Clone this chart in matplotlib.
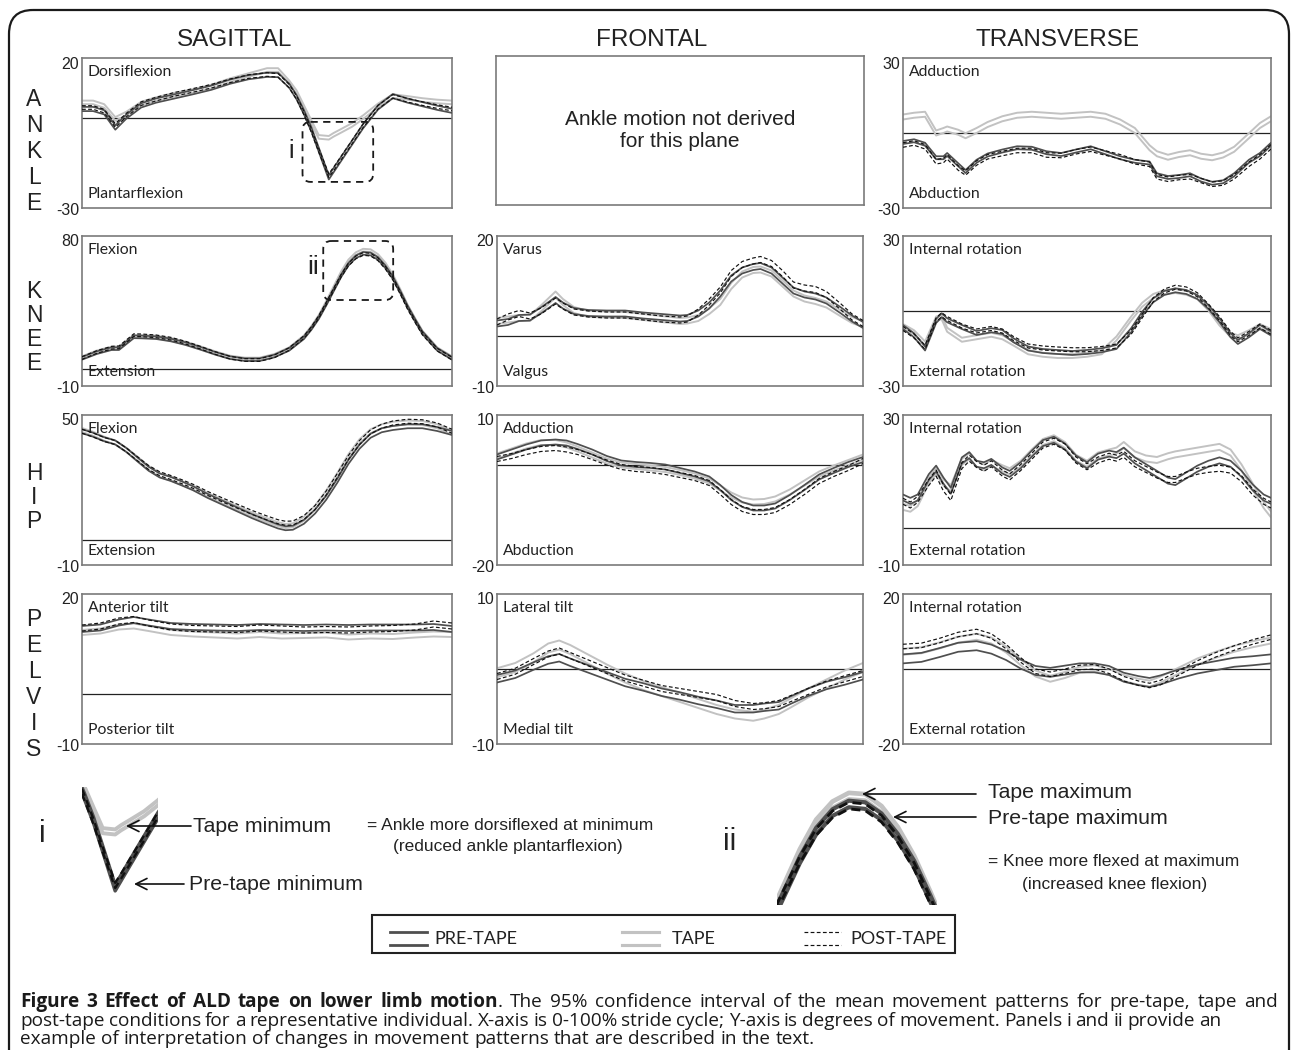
import matplotlib
matplotlib.use('Agg')
import matplotlib.pyplot as plt
from matplotlib.patches import FancyBboxPatch
import numpy as np

# ---------------------------------------------------------------- data
COLUMNS = ['SAGITTAL', 'FRONTAL', 'TRANSVERSE']
ROWS = ['ANKLE', 'KNEE', 'HIP', 'PELVIS']
CONDITIONS = ['PRE-TAPE', 'TAPE', 'POST-TAPE']

# Ankle sagittal
ANK_SAG_X = [0, 3, 6, 9, 12, 16, 20, 25, 30, 35, 40, 45, 50, 53, 56, 58, 60, 62, 64, 66.7, 68, 70, 73, 76, 80, 84, 88, 92, 96, 100]
ANK_SAG_PRE = [3.0, 3.0, 1.9, -3.2, 0.5, 4.2, 5.8, 7.2, 8.6, 10.1, 12.1, 13.6, 14.4, 14.3, 10.8, 6.9, 1.9, -3.8, -10.6, -19.8, -17.4, -13.7, -8.2, -2.7, 3.5, 7.3, 5.8, 4.6, 3.4, 2.4]
ANK_SAG_TAPE = [5.2, 5.2, 4.0, -0.3, 1.5, 4.8, 6.3, 7.8, 9.0, 10.5, 12.6, 14.3, 16.0, 16.0, 11.9, 8.6, 3.6, -1.4, -6.3, -6.6, -5.6, -4.3, -2.3, 0.3, 4.2, 7.3, 6.7, 6.0, 5.5, 5.2]
ANK_SAG_POST = [3.5, 3.5, 2.3, -2.5, 1.0, 4.8, 6.3, 7.9, 9.2, 10.6, 12.4, 13.8, 14.5, 14.2, 10.6, 6.8, 1.6, -4.2, -10.8, -19.2, -17.0, -13.4, -8.0, -2.5, 3.6, 7.2, 5.9, 4.8, 3.8, 3.0]
ANK_SAG_CI = [0.7, 0.6, 0.6]

# Ankle transverse
ANK_TRA_X = [0, 3, 6, 9, 11, 12, 15, 17, 20, 23, 27, 31, 35, 39, 43, 47, 51, 55, 59, 63, 67, 69, 72, 75, 78, 81, 84, 87, 90, 94, 97, 100]
ANK_TRA_PRE = [-3.8, -3.1, -4.5, -9.9, -9.9, -8.6, -12.7, -15.4, -11.3, -8.8, -7.2, -5.9, -6.1, -7.9, -8.6, -7.2, -5.9, -7.9, -9.9, -11.3, -12.0, -16.7, -17.8, -17.4, -16.7, -18.8, -20.1, -19.5, -16.7, -11.3, -8.6, -4.5]
ANK_TRA_TAPE = [6.4, 7.1, 7.5, 0.0, 1.0, 1.6, 0.3, -1.1, 1.0, 3.4, 5.7, 7.1, 7.5, 7.1, 6.7, 7.1, 7.5, 6.7, 4.4, 1.0, -5.9, -8.3, -9.7, -8.6, -7.9, -9.3, -9.9, -8.8, -6.5, -1.1, 3.0, 5.7]
ANK_TRA_POST = [-4.8, -4.0, -5.5, -11.5, -11.0, -9.5, -14.0, -16.0, -12.0, -9.5, -8.2, -7.0, -7.0, -8.8, -9.0, -7.5, -6.5, -8.0, -9.5, -11.5, -12.5, -17.5, -18.5, -17.8, -17.5, -19.0, -20.5, -20.0, -17.5, -12.5, -9.5, -5.5]
ANK_TRA_CI = [0.6, 1.0, 0.9]

# Knee sagittal
KNE_SAG_X = [0, 4, 8, 10, 14, 16, 20, 24, 28, 32, 36, 40, 44, 48, 52, 56, 60, 62, 64, 66, 68, 70, 72, 74, 76, 78, 80, 82, 84, 86, 88, 90, 92, 96, 100]
KNE_SAG_PRE = [6.6, 10.0, 12.4, 12.4, 19.5, 19.4, 19.0, 17.6, 15.4, 12.6, 9.6, 7.0, 5.8, 5.8, 8.0, 12.0, 19.0, 24.5, 31.0, 39.0, 47.5, 56.0, 63.0, 67.5, 69.6, 69.2, 66.5, 61.5, 55.0, 46.5, 37.5, 29.5, 22.0, 12.0, 6.6]
KNE_SAG_TAPE = [7.0, 10.5, 12.8, 13.0, 19.8, 19.8, 19.4, 18.0, 15.8, 13.0, 10.0, 7.4, 6.2, 6.2, 8.4, 12.4, 19.6, 25.2, 31.8, 40.2, 49.0, 57.8, 65.0, 69.4, 71.5, 71.2, 68.3, 63.2, 56.2, 47.4, 38.0, 30.0, 22.4, 12.4, 7.0]
KNE_SAG_POST = [6.8, 10.4, 13.0, 13.2, 20.5, 20.4, 19.8, 18.4, 16.0, 13.0, 9.8, 7.0, 5.6, 5.6, 7.8, 12.2, 19.4, 24.8, 31.5, 39.4, 47.8, 56.0, 62.8, 67.1, 69.2, 68.8, 66.0, 61.0, 54.5, 46.0, 36.8, 29.0, 21.5, 11.8, 6.4]
KNE_SAG_CI = [0.8, 0.8, 0.8]

# Knee frontal
KNE_FRO_X = [0, 3, 6, 9, 12, 16, 18, 21, 25, 30, 35, 40, 45, 50, 52, 55, 58, 61, 64, 67, 70, 72, 75, 78, 81, 84, 87, 90, 94, 97, 100]
KNE_FRO_PRE = [2.5, 2.8, 3.6, 3.7, 5.1, 7.2, 6.1, 5.0, 4.6, 4.5, 4.5, 4.1, 3.8, 3.5, 3.6, 4.5, 6.1, 8.5, 11.5, 13.1, 13.8, 14.0, 13.1, 11.1, 9.1, 8.3, 7.9, 7.1, 5.1, 3.5, 2.2]
KNE_FRO_TAPE = [3.0, 3.3, 3.6, 3.6, 5.5, 8.3, 6.8, 5.2, 4.4, 4.3, 4.2, 3.8, 3.4, 3.0, 3.1, 3.6, 5.0, 6.8, 10.0, 12.3, 13.2, 13.3, 12.5, 10.5, 8.5, 7.5, 7.0, 6.3, 4.5, 3.2, 2.4]
KNE_FRO_POST = [2.8, 3.8, 4.5, 4.0, 5.0, 7.0, 6.0, 4.8, 4.4, 4.2, 4.2, 3.8, 3.4, 3.2, 3.4, 4.8, 6.8, 9.2, 12.5, 14.3, 15.0, 15.3, 14.5, 12.5, 10.2, 9.6, 9.3, 8.3, 5.8, 3.8, 2.5]
KNE_FRO_CI = [0.6, 0.6, 0.6]

# Knee transverse
KNE_TRA_X = [0, 3, 6, 9, 10.5, 12, 16, 20, 24, 27, 30, 34, 38, 42, 46, 50, 54, 58, 62, 65, 68, 71, 74, 77, 80, 83, 86, 89, 91, 94, 97, 100]
KNE_TRA_PRE = [-6.4, -9.7, -15.0, -4.0, -1.7, -3.7, -6.4, -8.8, -7.7, -8.4, -11.7, -15.0, -16.0, -16.4, -16.8, -16.4, -15.7, -14.4, -7.7, -1.1, 4.3, 7.2, 8.3, 7.6, 5.6, 1.6, -3.7, -9.7, -12.4, -9.7, -6.4, -9.0]
KNE_TRA_TAPE = [-6.0, -8.5, -13.0, -3.0, -2.5, -7.5, -11.5, -10.5, -9.5, -10.5, -13.0, -16.5, -17.5, -18.0, -18.0, -17.5, -16.5, -11.0, -3.0, 2.5, 6.0, 7.5, 8.0, 7.3, 5.5, 1.0, -5.0, -9.5, -10.5, -8.5, -6.0, -8.0]
KNE_TRA_POST = [-7.0, -10.0, -14.5, -3.5, -1.5, -3.0, -6.0, -8.0, -7.0, -8.0, -11.0, -14.0, -14.8, -15.2, -15.5, -15.5, -15.0, -14.0, -8.5, -2.0, 4.5, 8.0, 9.5, 8.8, 6.5, 2.0, -3.0, -9.0, -11.5, -9.0, -6.0, -8.5]
KNE_TRA_CI = [0.8, 0.8, 0.8]

# Hip sagittal
HIP_SAG_X = [0, 3, 6, 9, 12, 15, 18, 21, 24, 27, 30, 34, 38, 42, 46, 50, 53, 55, 57, 60, 63, 66, 69, 72, 75, 78, 81, 84, 88, 92, 96, 100]
HIP_SAG_PRE = [43.5, 42.1, 40.3, 39.0, 36.0, 32.2, 28.5, 25.8, 24.4, 22.6, 20.7, 17.6, 14.9, 12.2, 9.5, 7.1, 5.4, 4.7, 4.9, 7.3, 11.4, 16.9, 23.7, 31.2, 37.3, 41.7, 43.9, 44.8, 45.5, 45.5, 44.4, 42.8]
HIP_SAG_TAPE = [44.0, 42.5, 40.5, 39.0, 36.0, 32.5, 28.8, 26.0, 24.6, 22.8, 21.0, 18.0, 15.3, 12.8, 10.2, 7.9, 6.3, 5.6, 5.9, 8.5, 13.0, 19.0, 26.0, 33.5, 39.5, 43.5, 45.5, 46.5, 47.0, 46.8, 45.5, 43.0]
HIP_SAG_POST = [43.5, 42.0, 40.2, 39.0, 36.0, 32.5, 29.0, 26.5, 25.0, 23.3, 21.5, 18.6, 16.0, 13.5, 11.0, 8.8, 7.3, 6.7, 6.8, 9.0, 13.0, 18.8, 25.8, 33.0, 39.0, 43.3, 45.5, 46.8, 47.5, 47.3, 46.0, 43.5]
HIP_SAG_CI = [0.8, 0.8, 0.8]

# Hip frontal
HIP_FRO_X = [0, 4, 8, 12, 16, 19, 22, 26, 30, 34, 38, 42, 46, 50, 54, 58, 61, 64, 67, 70, 73, 76, 80, 84, 88, 92, 96, 100]
HIP_FRO_PRE = [1.6, 2.6, 3.6, 4.4, 4.6, 4.4, 3.7, 2.6, 1.3, 0.4, 0.1, -0.1, -0.4, -1.1, -1.8, -2.8, -4.5, -6.5, -7.9, -8.6, -8.6, -8.2, -6.5, -4.5, -2.4, -1.1, 0.1, 1.1]
HIP_FRO_TAPE = [1.8, 2.8, 3.8, 4.5, 4.5, 4.0, 3.2, 2.0, 0.8, 0.0, -0.3, -0.6, -0.9, -1.5, -2.2, -3.2, -4.6, -6.0, -7.0, -7.4, -7.3, -6.8, -5.4, -3.6, -1.8, -0.6, 0.5, 1.6]
HIP_FRO_POST = [1.2, 1.8, 2.6, 3.2, 3.4, 3.1, 2.6, 1.6, 0.5, -0.4, -0.8, -1.0, -1.4, -2.0, -2.6, -3.6, -5.4, -7.4, -8.8, -9.4, -9.4, -9.0, -7.4, -5.4, -3.2, -1.8, -0.6, 0.8]
HIP_FRO_CI = [0.5, 0.5, 0.5]

# Hip transverse
HIP_TRA_X = [0, 2, 4, 7, 9, 11, 13, 16, 18, 20, 22, 24, 27, 29, 32, 35, 38, 41, 44, 47, 50, 53, 56, 58, 60, 63, 66, 69, 72, 74, 77, 80, 83, 86, 89, 92, 95, 98, 100]
HIP_TRA_PRE = [8.0, 7.1, 8.0, 13.4, 15.7, 12.5, 9.8, 17.9, 19.3, 17.0, 16.6, 17.5, 15.2, 14.3, 16.6, 19.7, 22.5, 23.4, 21.6, 18.4, 16.6, 18.9, 19.7, 19.3, 20.5, 17.9, 16.1, 14.3, 12.5, 12.1, 13.9, 15.7, 17.0, 17.9, 17.0, 14.3, 10.7, 8.0, 7.1]
HIP_TRA_TAPE = [5.5, 5.0, 6.5, 12.5, 15.0, 12.0, 10.5, 17.5, 19.0, 17.0, 16.0, 17.2, 15.8, 15.0, 17.0, 20.0, 22.8, 23.8, 22.0, 18.6, 17.0, 19.2, 20.0, 20.5, 22.0, 19.5, 18.4, 18.0, 19.0, 19.5, 20.0, 20.5, 21.0, 21.5, 20.0, 16.0, 11.0, 6.0, 3.5]
HIP_TRA_POST = [7.0, 6.0, 7.5, 12.0, 14.5, 10.5, 8.0, 16.5, 18.5, 16.8, 15.8, 17.0, 14.5, 13.5, 16.0, 19.0, 22.0, 23.0, 21.5, 18.0, 16.2, 18.0, 19.0, 18.5, 19.5, 17.0, 15.5, 14.0, 12.8, 12.8, 14.0, 15.0, 15.5, 15.8, 15.3, 13.0, 9.5, 7.0, 6.0]
HIP_TRA_CI = [0.8, 0.8, 0.8]

# Pelvis sagittal
PEL_SAG_X = [0, 5, 10, 14, 18, 24, 30, 36, 42, 48, 54, 60, 66, 72, 78, 84, 90, 95, 100]
PEL_SAG_PRE = [13.0, 13.3, 14.3, 14.8, 14.3, 13.6, 13.4, 13.3, 13.2, 13.4, 13.3, 13.2, 13.3, 13.2, 13.3, 13.3, 13.3, 13.4, 13.0]
PEL_SAG_TAPE = [12.3, 12.6, 13.4, 13.6, 13.1, 12.3, 12.0, 11.8, 11.6, 11.9, 11.6, 11.7, 11.8, 11.4, 11.6, 11.5, 11.8, 12.0, 11.9]
PEL_SAG_POST = [13.2, 13.6, 14.6, 14.9, 14.2, 13.4, 13.1, 13.0, 12.9, 13.2, 13.0, 12.8, 12.9, 12.8, 13.0, 13.1, 13.4, 14.0, 13.6]
PEL_SAG_CI = [0.6, 0.5, 0.6]

# Pelvis frontal
PEL_FRO_X = [0, 5, 10, 14, 17, 20, 25, 30, 35, 40, 45, 50, 55, 60, 65, 70, 73, 77, 80, 85, 90, 95, 100]
PEL_FRO_PRE = [-1.3, -0.7, 0.4, 1.2, 1.5, 0.9, 0.0, -0.9, -1.8, -2.4, -3.1, -3.6, -4.2, -4.7, -5.3, -5.3, -5.1, -4.9, -4.2, -3.1, -2.2, -1.6, -0.9]
PEL_FRO_TAPE = [-0.5, 0.2, 1.5, 2.8, 3.2, 2.6, 1.3, 0.0, -1.2, -2.2, -3.0, -3.8, -4.6, -5.4, -6.0, -6.3, -6.0, -5.4, -4.6, -3.2, -2.0, -0.8, 0.2]
PEL_FRO_POST = [-1.0, -0.3, 1.0, 2.0, 2.4, 1.8, 0.8, -0.2, -1.2, -1.9, -2.6, -3.0, -3.4, -3.8, -4.6, -5.0, -4.9, -4.6, -4.0, -3.0, -2.0, -1.3, -0.6]
PEL_FRO_CI = [0.5, 0.6, 0.4]

# Pelvis transverse
PEL_TRA_X = [0, 5, 10, 15, 20, 24, 28, 32, 36, 40, 44, 48, 52, 56, 60, 64, 67, 70, 75, 80, 85, 90, 95, 100]
PEL_TRA_PRE = [2.7, 3.1, 4.4, 5.8, 6.2, 5.3, 3.6, 1.3, -0.4, -0.9, -0.3, 0.3, 0.3, -0.4, -2.2, -3.1, -3.6, -2.9, -1.3, 0.0, 0.9, 1.8, 2.2, 2.7]
PEL_TRA_TAPE = [4.6, 5.0, 6.3, 7.8, 8.6, 7.6, 5.2, 1.8, -1.2, -2.6, -1.6, -0.2, 0.2, -0.8, -2.4, -3.4, -3.9, -2.8, -0.4, 2.0, 3.8, 5.4, 6.6, 7.6]
PEL_TRA_POST = [6.0, 6.3, 7.6, 9.2, 10.0, 8.8, 6.0, 2.4, -0.6, -1.4, -0.6, 0.4, 0.6, -0.6, -2.6, -3.8, -4.4, -3.6, -1.0, 1.6, 3.8, 5.6, 7.2, 8.5]
PEL_TRA_CI = [1.2, 0.8, 0.6]

# y ranges (bottom, top) and direction labels (top, bottom)
RANGES = {
    (0, 0): (-30, 20), (0, 2): (-30, 30),
    (1, 0): (-10, 80), (1, 1): (-10, 20), (1, 2): (-30, 30),
    (2, 0): (-10, 50), (2, 1): (-20, 10), (2, 2): (-10, 30),
    (3, 0): (-10, 20), (3, 1): (-10, 10), (3, 2): (-20, 20),
}
DIRECTIONS = {
    (0, 0): ('Dorsiflexion', 'Plantarflexion'), (0, 2): ('Adduction', 'Abduction'),
    (1, 0): ('Flexion', 'Extension'), (1, 1): ('Varus', 'Valgus'),
    (1, 2): ('Internal rotation', 'External rotation'),
    (2, 0): ('Flexion', 'Extension'), (2, 1): ('Adduction', 'Abduction'),
    (2, 2): ('Internal rotation', 'External rotation'),
    (3, 0): ('Anterior tilt', 'Posterior tilt'), (3, 1): ('Lateral tilt', 'Medial tilt'),
    (3, 2): ('Internal rotation', 'External rotation'),
}
SERIES = {
    (0, 0): (ANK_SAG_X, ANK_SAG_PRE, ANK_SAG_TAPE, ANK_SAG_POST, ANK_SAG_CI),
    (0, 2): (ANK_TRA_X, ANK_TRA_PRE, ANK_TRA_TAPE, ANK_TRA_POST, ANK_TRA_CI),
    (1, 0): (KNE_SAG_X, KNE_SAG_PRE, KNE_SAG_TAPE, KNE_SAG_POST, KNE_SAG_CI),
    (1, 1): (KNE_FRO_X, KNE_FRO_PRE, KNE_FRO_TAPE, KNE_FRO_POST, KNE_FRO_CI),
    (1, 2): (KNE_TRA_X, KNE_TRA_PRE, KNE_TRA_TAPE, KNE_TRA_POST, KNE_TRA_CI),
    (2, 0): (HIP_SAG_X, HIP_SAG_PRE, HIP_SAG_TAPE, HIP_SAG_POST, HIP_SAG_CI),
    (2, 1): (HIP_FRO_X, HIP_FRO_PRE, HIP_FRO_TAPE, HIP_FRO_POST, HIP_FRO_CI),
    (2, 2): (HIP_TRA_X, HIP_TRA_PRE, HIP_TRA_TAPE, HIP_TRA_POST, HIP_TRA_CI),
    (3, 0): (PEL_SAG_X, PEL_SAG_PRE, PEL_SAG_TAPE, PEL_SAG_POST, PEL_SAG_CI),
    (3, 1): (PEL_FRO_X, PEL_FRO_PRE, PEL_FRO_TAPE, PEL_FRO_POST, PEL_FRO_CI),
    (3, 2): (PEL_TRA_X, PEL_TRA_PRE, PEL_TRA_TAPE, PEL_TRA_POST, PEL_TRA_CI),
}

CAPTION_BOLD = 'Figure 3 Effect of ALD tape on lower limb motion'
CAPTION_LINES = [
    '. The 95% confidence interval of the mean movement patterns for pre-tape, tape and',
    'post-tape conditions for a representative individual. X-axis is 0-100% stride cycle; Y-axis is degrees of movement. Panels i and ii provide an',
    'example of interpretation of changes in movement patterns that are described in the text.',
]

# ---------------------------------------------------------------- style
W, H = 1293, 1050
SANS = 'Liberation Sans'
LBL = 'Lato'
CAPF = 'Open Sans'
C_PRE, C_TAPE, C_POST = '#4f4f4f', '#c2c2c2', '#111111'
STY = [
    dict(color=C_PRE, lw=1.25, zorder=3),
    dict(color=C_TAPE, lw=1.4, zorder=2),
    dict(color=C_POST, lw=0.85, ls=(0, (3.2, 2.0)), zorder=4),
]

fig = plt.figure(figsize=(W / 100, H / 100), dpi=100)
fig.patch.set_facecolor('white')


def px_axes(x, y, w, h, **kw):
    return fig.add_axes([x / W, 1 - (y + h) / H, w / W, h / H], **kw)


COL_X = [82, 497, 903]
COL_W = [370, 366, 368]
ROW_Y = [58, 236, 415, 594]
ROW_H = 150

# overlay axes in pixel coordinates
ov = fig.add_axes([0, 0, 1, 1], zorder=10)
ov.set_xlim(0, W)
ov.set_ylim(H, 0)
ov.axis('off')
ov.patch.set_alpha(0)


def draw_curves(ax, key, lw_scale=1.0, order=(1, 0, 2)):
    x, pre, tape, post, ci = SERIES[key]
    arrs = [np.asarray(pre), np.asarray(tape), np.asarray(post)]
    xs = np.asarray(x)
    for i in order:
        kw = dict(STY[i])
        kw['lw'] = kw['lw'] * lw_scale
        for s in (-1, 1):
            ax.plot(xs, arrs[i] + s * ci[i], solid_capstyle='round', solid_joinstyle='round', **kw)


panel_axes = {}
for r in range(4):
    for c in range(3):
        if (r, c) == (0, 1):
            ax = px_axes(496, 56, 368, 149)
            ax.set_xticks([]); ax.set_yticks([])
            for sp in ax.spines.values():
                sp.set_color('#7a7a7a'); sp.set_linewidth(1.2)
            ax.text(0.5, 0.5, 'Ankle motion not derived\nfor this plane', transform=ax.transAxes,
                    ha='center', va='center', fontsize=15, family=SANS, color='#222',
                    linespacing=1.2)
            continue
        ax = px_axes(COL_X[c], ROW_Y[r], COL_W[c], ROW_H)
        panel_axes[(r, c)] = ax
        lo, hi = RANGES[(r, c)]
        ax.set_xlim(0, 100)
        ax.set_ylim(lo, hi)
        ax.set_xticks([]); ax.set_yticks([])
        for sp in ax.spines.values():
            sp.set_color('#7a7a7a'); sp.set_linewidth(1.2)
        ax.axhline(0, color='#222222', lw=0.9, zorder=1)
        draw_curves(ax, (r, c))
        top, bot = DIRECTIONS[(r, c)]
        ax.text(0.016, 0.905, top, transform=ax.transAxes, ha='left', va='center',
                fontsize=11.3, family=LBL, color='#222')
        ax.text(0.016, 0.092, bot, transform=ax.transAxes, ha='left', va='center',
                fontsize=11.3, family=LBL, color='#222')
        ax.text(-0.008, 1.01, f'{hi:g}', transform=ax.transAxes, ha='right', va='top',
                fontsize=11.5, family=SANS, color='#222')
        ax.text(-0.008, -0.015, f'{lo:g}', transform=ax.transAxes, ha='right', va='center',
                fontsize=11.5, family=SANS, color='#222')

# column headers and row letters
for name, cx in zip(COLUMNS, [235, 652, 1058]):
    ov.text(cx, 40, name, ha='center', va='center', fontsize=17.5, family=SANS, color='#222')
ROW_LETTER_Y = [[100, 126, 152, 178, 203], [292, 316, 340, 364], [474, 498, 522],
                [620, 646, 672, 698, 723, 749]]
for name, ys in zip(ROWS, ROW_LETTER_Y):
    for ch, yy in zip(name, ys):
        ov.text(34, yy, ch, ha='center', va='center', fontsize=16.5, family=SANS, color='#222')


def data_to_px(ax, x, y):
    d = ax.transData.transform((x, y))
    return ov.transData.inverted().transform(d)


# dashed callout boxes (data coords of their panels)
for key, (x0, x1, y0, y1), lab, lpos, fs in [
        ((0, 0), (59.6, 78.7, -21.3, -1.3), 'i', (291, 151), 18),
        ((1, 0), (65.2, 84.1, 41.6, 77.0), 'ii', (313, 267), 19)]:
    ax = panel_axes[key]
    (px0, py1) = data_to_px(ax, x0, y1)
    (px1, py0) = data_to_px(ax, x1, y0)
    ov.add_patch(FancyBboxPatch((px0, py1), px1 - px0, py0 - py1,
                                boxstyle='round,pad=0,rounding_size=8', fc='none',
                                ec='#1a1a1a', lw=1.3, ls=(0, (4, 3))))
    ov.text(lpos[0], lpos[1], lab, ha='center', va='center', fontsize=fs, family=SANS, color='#222')

# ---------------------------------------------------------------- insets
ins1 = px_axes(82, 787, 76, 106)
ins1.set_xlim(59.5, 76)
ins1.set_ylim(-21, 4)
ins1.axis('off')
draw_curves(ins1, (0, 0), lw_scale=2.0)

ins2 = px_axes(777, 790, 160, 115)
ins2.set_xlim(67.2, 86.8)
ins2.set_ylim(45, 73)
ins2.axis('off')
draw_curves(ins2, (1, 0), lw_scale=2.4)

AR = dict(arrowstyle='->', lw=1.2, color='#111', shrinkA=0, shrinkB=0, mutation_scale=20)
ov.annotate('', xy=(126, 826), xytext=(191, 826), arrowprops=AR)
ov.annotate('', xy=(134, 884), xytext=(184, 884), arrowprops=AR)
ov.annotate('', xy=(862, 794), xytext=(976, 794), arrowprops=AR)
ov.annotate('', xy=(893, 817), xytext=(976, 817), arrowprops=AR)

BIG, SMALL = 15.3, 12.5
ov.text(42, 834, 'i', ha='center', va='center', fontsize=22, family=SANS, color='#222')
ov.text(730, 842, 'ii', ha='center', va='center', fontsize=22, family=SANS, color='#222')
ov.text(193, 826, 'Tape minimum', ha='left', va='center', fontsize=BIG, family=SANS, color='#222')
ov.text(189, 885, 'Pre-tape minimum', ha='left', va='center', fontsize=BIG, family=SANS, color='#222')
ov.text(367, 825, '= Ankle more dorsiflexed at minimum', ha='left', va='center', fontsize=SMALL,
        family=SANS, color='#222')
ov.text(393, 847, '(reduced ankle plantarflexion)', ha='left', va='center', fontsize=SMALL,
        family=SANS, color='#222')
ov.text(988, 793, 'Tape maximum', ha='left', va='center', fontsize=BIG, family=SANS, color='#222')
ov.text(988, 818, 'Pre-tape maximum', ha='left', va='center', fontsize=BIG, family=SANS, color='#222')
ov.text(988, 862, '= Knee more flexed at maximum', ha='left', va='center', fontsize=SMALL,
        family=SANS, color='#222')
ov.text(1022, 885, '(increased knee flexion)', ha='left', va='center', fontsize=SMALL,
        family=SANS, color='#222')

# ---------------------------------------------------------------- legend
ov.add_patch(FancyBboxPatch((372, 915), 583, 38, boxstyle='square,pad=0', fc='white',
                            ec='#222', lw=1.5))
for (sx, tx), st, lab in zip([(390, 434), (622, 672), (804, 850)], STY, CONDITIONS):
    kw = dict(st)
    kw['lw'] = kw['lw'] * 1.6 if kw.get('ls') is None else kw['lw']
    for yy in (932, 945):
        ov.plot([sx, sx + 37], [yy, yy], **kw)
    ov.text(tx, 939, lab, ha='left', va='center', fontsize=13, family=LBL, color='#222')

# ---------------------------------------------------------------- caption
renderer = fig.canvas.get_renderer()


def text_w(s, size, bold=False):
    t = ov.text(0, 0, s, fontsize=size, family=CAPF, weight='bold' if bold else 'normal')
    w = t.get_window_extent(renderer).width
    t.remove()
    return w


# font size chosen so the last caption line spans its width in the reference
size0 = 12.0
cap_size = size0 * 795 / text_w(CAPTION_LINES[2], size0)

line1_words = [[(w, True)] for w in CAPTION_BOLD.split(' ')]
rest = CAPTION_LINES[0].split(' ')
line1_words[-1].append((rest[0], False))
line1_words += [[(w, False)] for w in rest[1:]]
lines = [
    (line1_words, 1007, 1278, True),
    ([[(w, False)] for w in CAPTION_LINES[1].split(' ')], 1025.5, 1221, True),
    ([[(w, False)] for w in CAPTION_LINES[2].split(' ')], 1044, 815, False),
]
x_start = 20
space_w = text_w('a b', cap_size) - text_w('ab', cap_size)
for words, yb, x_end, justify in lines:
    widths = [sum(text_w(s, cap_size, b) for s, b in wd) for wd in words]
    if justify:
        gap = (x_end - x_start - sum(widths)) / (len(words) - 1)
    else:
        gap = space_w
    xx = x_start
    for wd, wdt in zip(words, widths):
        xs = xx
        for s, b in wd:
            ov.text(xs, yb, s, ha='left', va='baseline', fontsize=cap_size, family=CAPF,
                    weight='bold' if b else 'normal', color='#1a1a1a')
            xs += text_w(s, cap_size, b)
        xx += wdt + gap

# outer rounded border
ov.add_patch(FancyBboxPatch((9, 10), 1280, 1200, boxstyle='round,pad=0,rounding_size=24',
                            fc='none', ec='#1a1a1a', lw=1.6))

fig.savefig('out.png', dpi=100, facecolor='white')
